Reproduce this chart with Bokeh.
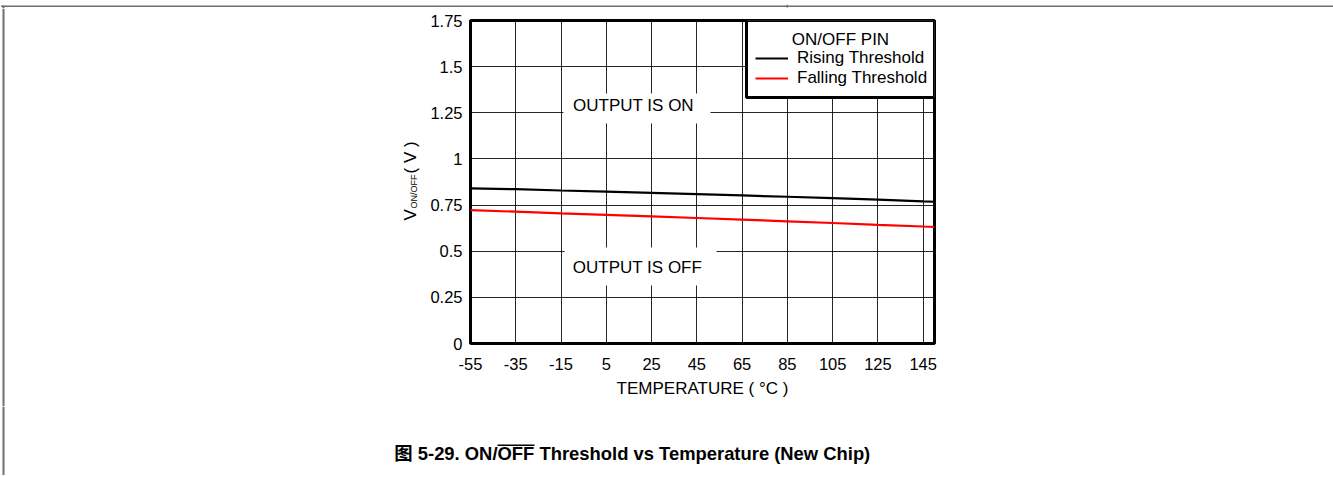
import numpy as np
from bokeh.plotting import figure
from bokeh.layouts import column, row
from bokeh.models import Legend, LegendItem, Label, BoxAnnotation, FixedTicker, Range1d
from bokeh.embed import file_html
from bokeh.resources import INLINE

# ---------------- data ----------------
temperature = [-55, -35, -15, 5, 25, 45, 65, 85, 105, 125, 145, 150]
rising_threshold = [0.840, 0.836, 0.829, 0.823, 0.816, 0.809, 0.802, 0.795, 0.788, 0.779, 0.770, 0.768]
falling_threshold = [0.723, 0.714, 0.705, 0.697, 0.689, 0.680, 0.671, 0.662, 0.653, 0.643, 0.634, 0.632]
x_ticks = [-55, -35, -15, 5, 25, 45, 65, 85, 105, 125, 145]
x_tick_labels = ["-55", "-35", "-15", "5", "25", "45", "65", "85", "105", "125", "145"]
y_ticks = [0, 0.25, 0.5, 0.75, 1, 1.25, 1.5, 1.75]
y_tick_labels = ["0", "0.25", "0.5", "0.75", "1", "1.25", "1.5", "1.75"]
series_names = ["Rising Threshold", "Falling Threshold"]
legend_title = "ON/OFF PIN"
x_title = "TEMPERATURE ( \u00b0C )"
y_title = ["V", "ON/OFF", "( V )"]
region_on = "OUTPUT IS ON"
region_off = "OUTPUT IS OFF"
caption = ["\u56fe 5-29. ON/", "OFF", "Threshold vs Temperature (New Chip)"]

XMIN, XMAX = -55, 150
YMIN, YMAX = 0, 1.75

# ---------------- layout (page pixels) ----------------
W = 1333
TOP_H = 8           # strip with page frame line
LEFT_W = 420        # strip with y title
MAIN_H = 398        # page y 8 .. 406
CAP_H = 69          # page y 406 .. 475
FL, FR, FT, FB = 470, 934, 20, 343
FONT = "Liberation Sans"
FRAME_GRAY = "#6f6f6f"


def px_x(px):
    return XMIN + (px - FL) * (XMAX - XMIN) / (FR - FL)


def px_y(py):
    return YMIN + (FB - py) * (YMAX - YMIN) / (FB - FT)


def no_align(f):
    try:
        f.frame_align = False
    except Exception:
        pass


def blank_fig(x0, x1, y0, y1):
    f = figure(width=x1 - x0, height=y1 - y0, x_range=Range1d(x0, x1), y_range=Range1d(y1, y0),
               output_backend="svg", toolbar_location=None,
               x_axis_location=None, y_axis_location=None, min_border=0)
    f.grid.visible = False
    f.outline_line_color = None
    f.background_fill_color = "white"
    f.border_fill_color = "white"
    no_align(f)
    return f


def rect(f, l, r, t, b, color):
    f.add_layout(BoxAnnotation(left=l, right=r, top=t, bottom=b, fill_color=color,
                               fill_alpha=1, line_color=None))


# ---------------- top strip (page frame) ----------------
top = blank_fig(0, W, 0, TOP_H)
rect(top, 0.5, W - 0.5, 1, 2.6, FRAME_GRAY)
rect(top, 2, 4, 1, TOP_H, FRAME_GRAY)
rect(top, 786, 787.5, 0, 3, FRAME_GRAY)

# ---------------- left strip (y title) ----------------
left = blank_fig(0, LEFT_W, TOP_H, TOP_H + MAIN_H)
rect(left, 2, 4, TOP_H, TOP_H + MAIN_H, FRAME_GRAY)
left.add_layout(Label(x=410, y=220, text=y_title[0], angle=np.pi / 2, text_align="left",
                      text_baseline="middle", text_font=FONT, text_font_size="17px",
                      text_color="black"))
left.add_layout(Label(x=413, y=208, text=y_title[1], angle=np.pi / 2, text_align="left",
                      text_baseline="middle", text_font=FONT, text_font_size="9px",
                      text_color="black"))
left.add_layout(Label(x=410, y=173, text=y_title[2], angle=np.pi / 2, text_align="left",
                      text_baseline="middle", text_font=FONT, text_font_size="17px",
                      text_color="black"))

# ---------------- main chart ----------------
main_w = W - LEFT_W
p = figure(width=main_w, height=MAIN_H, x_range=(XMIN, XMAX), y_range=(YMIN, YMAX),
           output_backend="svg", toolbar_location=None,
           min_border_left=FL - LEFT_W, min_border_right=main_w - (FR - LEFT_W),
           min_border_top=FT - TOP_H, min_border_bottom=(TOP_H + MAIN_H) - FB)
no_align(p)
p.background_fill_color = "white"
p.border_fill_color = "white"
p.outline_line_color = "black"
p.outline_line_width = 3

for ax in (p.xaxis, p.yaxis):
    ax.axis_line_color = None
    ax.major_tick_line_color = None
    ax.minor_tick_line_color = None
    ax.major_tick_out = 0
    ax.major_tick_in = 0
    ax.minor_tick_out = 0
    ax.minor_tick_in = 0
    ax.major_label_text_font = FONT
    ax.major_label_text_font_size = "16.5px"
    ax.major_label_text_color = "black"

p.xaxis.ticker = FixedTicker(ticks=x_ticks)
p.yaxis.ticker = FixedTicker(ticks=y_ticks)
p.xaxis.major_label_overrides = {t: s for t, s in zip(x_ticks, x_tick_labels)}
p.yaxis.major_label_overrides = {t: s for t, s in zip(y_ticks, y_tick_labels)}
p.xaxis.major_label_standoff = 14
p.yaxis.major_label_standoff = 8
p.xaxis.axis_label = x_title
p.xaxis.axis_label_text_font = FONT
p.xaxis.axis_label_text_font_size = "17px"
p.xaxis.axis_label_text_font_style = "normal"
p.xaxis.axis_label_text_color = "black"
p.xaxis.axis_label_standoff = 6

p.xgrid.ticker = FixedTicker(ticks=x_ticks)
p.ygrid.ticker = FixedTicker(ticks=y_ticks)
for g in (p.xgrid, p.ygrid):
    g.grid_line_color = "black"
    g.grid_line_alpha = 0.85
    g.grid_line_width = 1

r1 = p.line(temperature, rising_threshold, line_color="black", line_width=2.2)
r2 = p.line(temperature, falling_threshold, line_color="#ff0000", line_width=2.2)

# region labels with white boxes
rect(p, px_x(563), px_x(710), px_y(93), px_y(123), "white")
rect(p, px_x(564), px_x(716), px_y(247), px_y(285), "white")
p.add_layout(Label(x=px_x(633), y=px_y(105), text=region_on, text_align="center",
                   text_baseline="middle", text_font=FONT, text_font_size="17px", text_color="black"))
p.add_layout(Label(x=px_x(637), y=px_y(267), text=region_off, text_align="center",
                   text_baseline="middle", text_font=FONT, text_font_size="17px", text_color="black"))

# legend box
p.add_layout(BoxAnnotation(left=px_x(746), right=XMAX, top=YMAX, bottom=px_y(97),
                           fill_color="white", fill_alpha=1, line_color="black",
                           line_alpha=1, line_width=3))
p.add_layout(Label(x=px_x(840), y=px_y(39), text=legend_title, text_align="center",
                   text_baseline="middle", text_font=FONT, text_font_size="17px", text_color="black"))
legend = Legend(items=[LegendItem(label=series_names[0], renderers=[r1]),
                       LegendItem(label=series_names[1], renderers=[r2])],
                location=(755 - FL, FB - 88), padding=0, margin=0, spacing=0,
                glyph_width=33, glyph_height=18, label_height=18, label_standoff=9,
                border_line_color=None, background_fill_alpha=0,
                label_text_font=FONT, label_text_font_size="17px", label_text_color="black")
p.add_layout(legend)

# ---------------- caption strip ----------------
cap_top = TOP_H + MAIN_H
cap = blank_fig(0, W, cap_top, cap_top + CAP_H)
rect(cap, 2, 4, cap_top, cap_top + CAP_H, FRAME_GRAY)
cap_font = FONT + ", Noto Sans CJK SC"
cap_kw = dict(text_baseline="middle", text_font=cap_font, text_font_size="18.4px",
              text_font_style="bold", text_color="black")
cap.add_layout(Label(x=497, y=453, text=caption[0], text_align="right", **cap_kw))
cap.add_layout(Label(x=497, y=453, text=caption[1], text_align="left", **cap_kw))
cap.add_layout(Label(x=539, y=453, text=caption[2], text_align="left", **cap_kw))
rect(cap, 497, 534, 444, 445.6, "black")

layout = column(top, row(left, p, spacing=0), cap, spacing=0)
open("out.html", "w").write(file_html(layout, INLINE))
